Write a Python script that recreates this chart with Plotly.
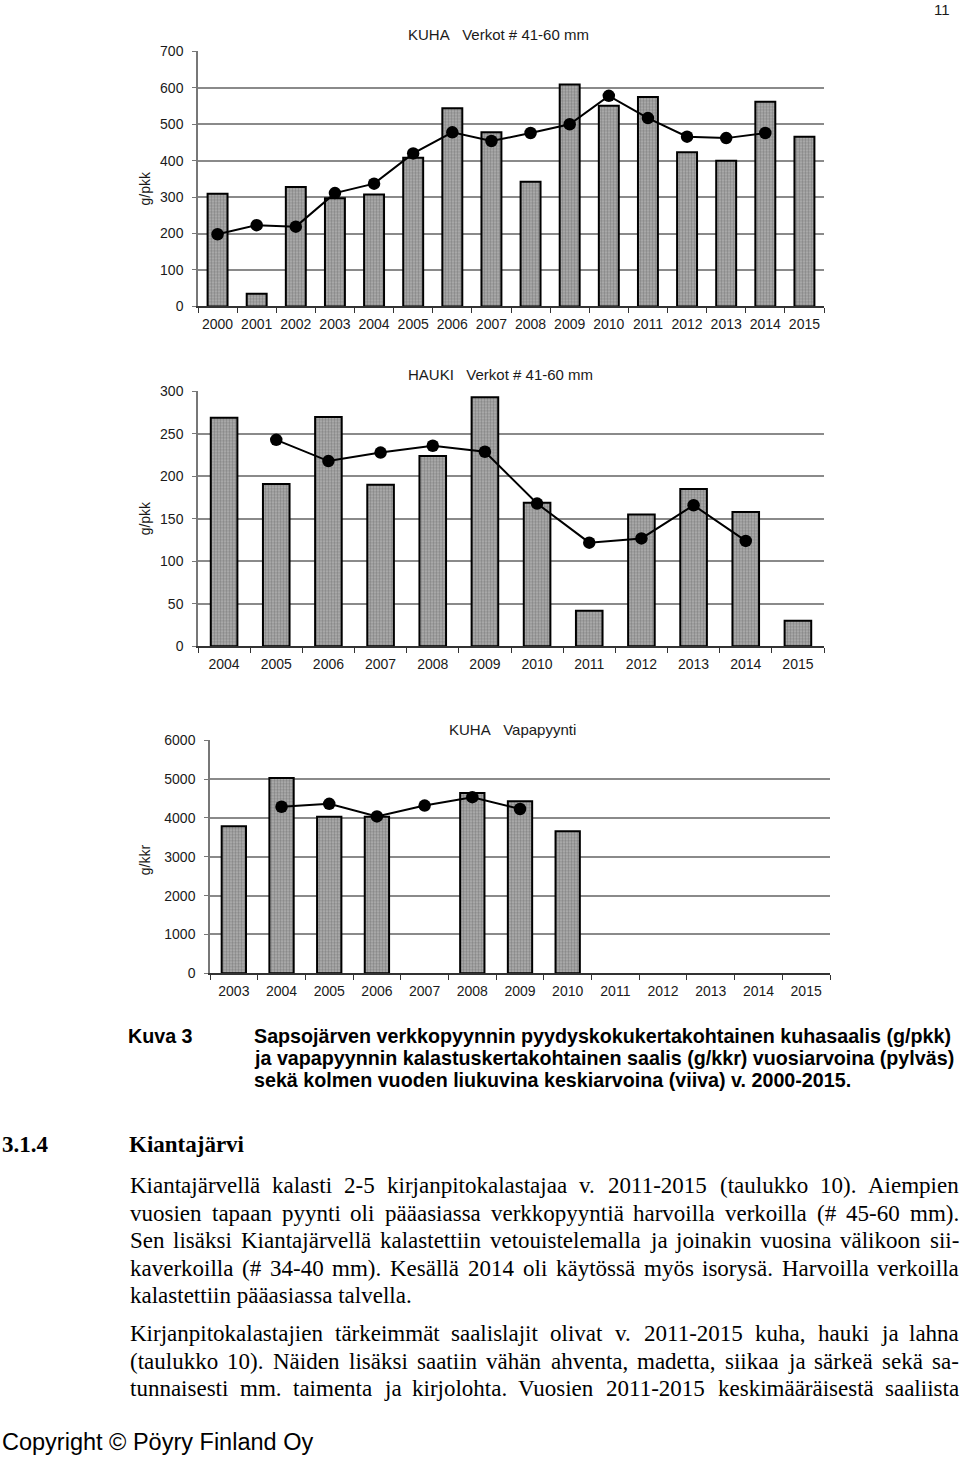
import plotly.graph_objects as go

W, H = 960, 1457

# ---------------- data ----------------
years1 = [str(y) for y in range(2000, 2016)]
kuha_verkot_bar = [309, 35, 328, 297, 307, 408, 544, 478, 342, 609, 551, 575, 423, 400, 562, 466]
kuha_verkot_avg = [198, 223, 219, 311, 337, 420, 478, 454, 476, 500, 578, 517, 466, 462, 476, None]

years2 = [str(y) for y in range(2004, 2016)]
hauki_bar = [269, 191, 270, 190, 224, 293, 169, 42, 155, 185, 158, 30]
hauki_avg = [None, 243, 218, 228, 236, 229, 168, 122, 127, 166, 124, None]

years3 = [str(y) for y in range(2003, 2016)]
kuha_vapa_bar = [3790, 5030, 4030, 4030, None, 4640, 4430, 3655, None, None, None, None, None]
kuha_vapa_avg = [None, 4290, 4365, 4040, 4320, 4535, 4230, None, None, None, None, None, None]

titles = ["KUHA\u00a0\u00a0\u00a0Verkot # 41-60 mm", "HAUKI\u00a0\u00a0\u00a0Verkot # 41-60 mm", "KUHA\u00a0\u00a0\u00a0Vapapyynti"]
ylabels = ["g/pkk", "g/pkk", "g/kkr"]

caption_head = "Kuva 3"
caption_lines = [
    "Sapsojärven verkkopyynnin pyydyskokukertakohtainen kuhasaalis (g/pkk)",
    "ja vapapyynnin kalastuskertakohtainen saalis (g/kkr) vuosiarvoina (pylväs)",
    "sekä kolmen vuoden liukuvina keskiarvoina (viiva) v. 2000-2015.",
]
section_no = "3.1.4"
section_title = "Kiantajärvi"
body_lines = [
    "Kiantajärvellä kalasti 2-5 kirjanpitokalastajaa v. 2011-2015 (taulukko 10). Aiempien",
    "vuosien tapaan pyynti oli pääasiassa verkkopyyntiä harvoilla verkoilla (# 45-60 mm).",
    "Sen lisäksi Kiantajärvellä kalastettiin vetouistelemalla ja joinakin vuosina välikoon sii-",
    "kaverkoilla (# 34-40 mm). Kesällä 2014 oli käytössä myös isorysä. Harvoilla verkoilla",
    "kalastettiin pääasiassa talvella.",
    "Kirjanpitokalastajien tärkeimmät saalislajit olivat v. 2011-2015 kuha, hauki ja lahna",
    "(taulukko 10). Näiden lisäksi saatiin vähän ahventa, madetta, siikaa ja särkeä sekä sa-",
    "tunnaisesti mm. taimenta ja kirjolohta. Vuosien 2011-2015 keskimääräisestä saaliista",
]
body_justified = [True, True, True, True, False, True, True, True]
body_y = [1185, 1213, 1240, 1268, 1295, 1333, 1361, 1388]
copyright_text = "Copyright © Pöyry Finland Oy"
page_no = "11"

# ---------------- layout geometry (pixels) ----------------
# empirical correction of the vertical placement seen in the photographed page
YS, YO = 0.9892, 7.55

def px(x):
    return x / W

def py(y):
    return 1 - ((y - YO) / YS) / H

panels = [
    dict(x=years1, bar=kuha_verkot_bar, avg=kuha_verkot_avg, x0=198, x1=824, ytop=51, ybot=306,
         yrange=[0, 700], dtick=100, title_x=498, title_y=34, ylab_y=188),
    dict(x=years2, bar=hauki_bar, avg=hauki_avg, x0=198, x1=824, ytop=391, ybot=646,
         yrange=[0, 300], dtick=50, title_x=500, title_y=374, ylab_y=518),
    dict(x=years3, bar=kuha_vapa_bar, avg=kuha_vapa_avg, x0=210, x1=830, ytop=740, ybot=973,
         yrange=[0, 6000], dtick=1000, title_x=512, title_y=729, ylab_y=860),
]

SANS = "Liberation Sans, Arial, sans-serif"
SERIF = "Liberation Serif, Times New Roman, serif"

# Times (Liberation Serif) advance widths, units per 1000 em, for justification
TW = dict(zip("abcdefghijklmnopqrstuvwxyz",
              [444, 500, 444, 500, 444, 333, 500, 500, 278, 278, 500, 278, 778,
               500, 500, 500, 500, 333, 389, 278, 500, 500, 722, 500, 500, 444]))
TW.update(dict(zip("ABCDEFGHIJKLMNOPQRSTUVWXYZ",
                   [722, 667, 667, 722, 611, 556, 722, 722, 333, 389, 722, 611, 889,
                    722, 722, 556, 722, 667, 556, 611, 722, 722, 944, 722, 722, 611])))
TW.update({c: 500 for c in "0123456789"})
TW.update({" ": 250, ".": 250, ",": 250, "-": 333, "(": 333, ")": 333, "#": 500,
           "ä": 444, "ö": 500, "Ä": 722, "Ö": 722})

def tw(s, size):
    return sum(TW.get(c, 500) for c in s) * size / 1000.0

fig = go.Figure()
layout = dict(
    width=W, height=H, autosize=False,
    margin=dict(l=0, r=0, t=0, b=0),
    paper_bgcolor="white", plot_bgcolor="white",
    showlegend=False, bargap=0.49,
    font=dict(family=SANS, size=14, color="#1a1a1a"),
)
annotations = []

for i, p in enumerate(panels):
    n = "" if i == 0 else str(i + 1)
    xa, ya = "x" + n, "y" + n
    fig.add_trace(go.Bar(
        x=p["x"], y=p["bar"], xaxis=xa, yaxis=ya,
        marker=dict(color="#9a9a9a",
                    line=dict(color="black", width=2),
                    pattern=dict(shape=".", size=3, solidity=0.5, fgcolor="#5a5a5a", bgcolor="#b2b2b2")),
    ))
    fig.add_trace(go.Scatter(
        x=p["x"], y=p["avg"], xaxis=xa, yaxis=ya, mode="lines+markers",
        line=dict(color="black", width=2),
        marker=dict(color="black", size=12.5, symbol="circle"),
        connectgaps=False, cliponaxis=False,
    ))
    layout["xaxis" + n] = dict(
        domain=[px(p["x0"]), px(p["x1"])], anchor=ya, type="category",
        range=[-0.5, len(p["x"]) - 0.5], autorange=False,
        showgrid=False, showline=True, linecolor="#333", linewidth=1.5,
        ticks="outside", ticklen=5, tickcolor="#333", tickson="boundaries",
        tickangle=0,
        tickfont=dict(family=SANS, size=14, color="#1a1a1a"), ticklabelstandoff=4,
        fixedrange=True,
    )
    layout["yaxis" + n] = dict(
        domain=[py(p["ybot"]), py(p["ytop"])], anchor=xa,
        range=p["yrange"], autorange=False, dtick=p["dtick"], tick0=0,
        showgrid=True, gridcolor="#8a8a8a", gridwidth=1.5,
        showline=True, linecolor="#777", linewidth=1.5,
        ticks="outside", ticklen=4, tickcolor="#777",
        tickfont=dict(family=SANS, size=14, color="#1a1a1a"), ticklabelstandoff=6,
        zeroline=False, fixedrange=True,
    )
    annotations.append(dict(text=titles[i], x=px(p["title_x"]), y=py(p["title_y"]),
                            xref="paper", yref="paper", showarrow=False,
                            xanchor="center", yanchor="middle",
                            font=dict(family=SANS, size=15, color="#1a1a1a")))
    annotations.append(dict(text=ylabels[i], x=px(145), y=py(p["ylab_y"]),
                            xref="paper", yref="paper", showarrow=False, textangle=-90,
                            xanchor="center", yanchor="middle",
                            font=dict(family=SANS, size=14, color="#1a1a1a")))

# page number
annotations.append(dict(text=page_no, x=px(952), y=py(9), xref="paper", yref="paper",
                        showarrow=False, xanchor="right", yanchor="middle",
                        font=dict(family=SANS, size=15, color="#1a1a1a")))

# caption
annotations.append(dict(text="<b>" + caption_head + "</b>", x=px(126), y=py(1036),
                        xref="paper", yref="paper", showarrow=False,
                        xanchor="left", yanchor="middle",
                        font=dict(family=SANS, size=19.7, color="black")))
for k, line in enumerate(caption_lines):
    annotations.append(dict(text="<b>" + line + "</b>", x=px(252), y=py(1036 + 22 * k),
                            xref="paper", yref="paper", showarrow=False,
                            xanchor="left", yanchor="middle",
                            font=dict(family=SANS, size=19.7, color="black")))

# section heading
annotations.append(dict(text="<b>" + section_no + "</b>", x=0, y=py(1144),
                        xref="paper", yref="paper", showarrow=False,
                        xanchor="left", yanchor="middle",
                        font=dict(family=SERIF, size=23, color="black")))
annotations.append(dict(text="<b>" + section_title + "</b>", x=px(127), y=py(1144),
                        xref="paper", yref="paper", showarrow=False,
                        xanchor="left", yanchor="middle",
                        font=dict(family=SERIF, size=23, color="black")))

# body text, justified between x=128 and x=957
BODY_SIZE = 23
LX, RX = 128, 957
for line, yy, just in zip(body_lines, body_y, body_justified):
    if not just:
        annotations.append(dict(text=line, x=px(LX), y=py(yy),
                                xref="paper", yref="paper", showarrow=False,
                                xanchor="left", yanchor="middle",
                                font=dict(family=SERIF, size=BODY_SIZE, color="black")))
        continue
    words = line.split(" ")
    widths = [tw(w, BODY_SIZE) for w in words]
    gap = (RX - LX - sum(widths)) / (len(words) - 1)
    xcur = LX
    for w, wd in zip(words, widths):
        annotations.append(dict(text=w, x=px(xcur), y=py(yy),
                                xref="paper", yref="paper", showarrow=False,
                                xanchor="left", yanchor="middle",
                                font=dict(family=SERIF, size=BODY_SIZE, color="black")))
        xcur += wd + gap

annotations.append(dict(text=copyright_text, x=0, y=py(1442),
                        xref="paper", yref="paper", showarrow=False,
                        xanchor="left", yanchor="middle",
                        font=dict(family=SANS, size=23.5, color="black")))

layout["annotations"] = annotations
fig.update_layout(**layout)
fig.write_html("out.html")
